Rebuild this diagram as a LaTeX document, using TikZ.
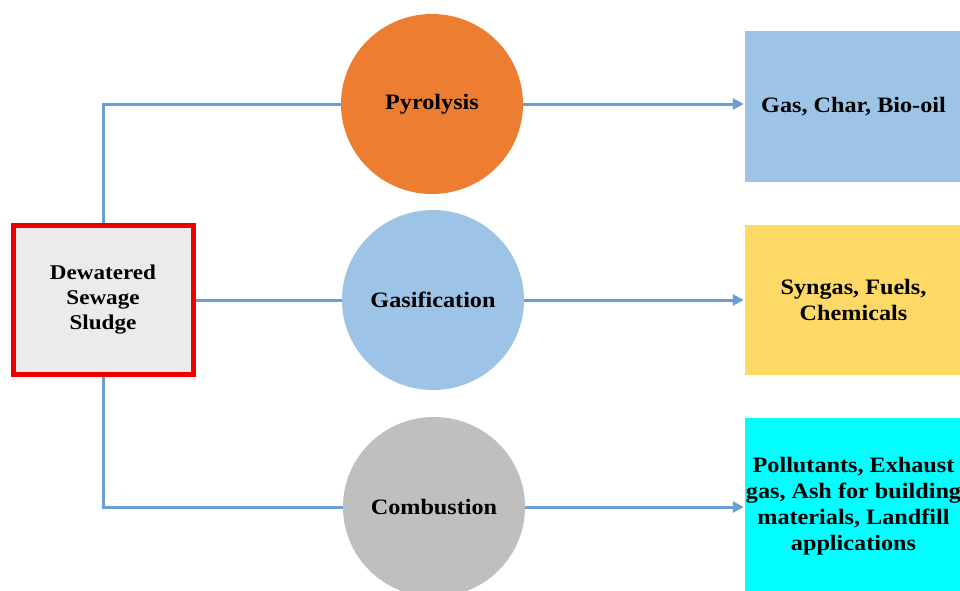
\documentclass[tikz,border=0pt]{standalone}
\usepackage{fontspec}
\setmainfont{Liberation Serif}[FakeStretch=1.1]
\usetikzlibrary{arrows.meta,shapes.geometric}

\definecolor{linkblue}{HTML}{6A9FD4}
\definecolor{procorange}{HTML}{ED7D31}
\definecolor{procblue}{HTML}{9DC3E6}
\definecolor{procgray}{HTML}{BFBFBF}
\definecolor{outblue}{HTML}{9DC3E6}
\definecolor{outyellow}{HTML}{FFD966}
\definecolor{outcyan}{HTML}{00FFFF}
\definecolor{srcfill}{HTML}{EBEBEB}
\definecolor{srcred}{HTML}{EE0000}

\tikzset{
  txt/.style={font=\bfseries\fontsize{22}{26}\selectfont, text=black, align=center},
  source/.style={txt, font=\bfseries\fontsize{21}{25}\selectfont, draw=srcred, line width=5pt,
    fill=srcfill, minimum width=180pt, minimum height=149pt, inner sep=0pt},
  process/.style={txt, ellipse, minimum width=182pt, minimum height=180pt, inner sep=0pt},
  product/.style={txt, rectangle, minimum width=217pt, inner sep=0pt},
  link/.style={draw=linkblue, line width=3pt},
  arrowlink/.style={link, -{Triangle[length=11pt,width=11pt]}, shorten >=1pt},
}

\begin{document}
\begin{tikzpicture}[x=1pt, y=-1pt]
  \clip (0,0) rectangle (960,590);
  \fill[white] (0,0) rectangle (960,590);

  % input material
  \node[source] (src) at (103,300) {Dewatered\\Sewage\\Sludge};

  % conversion routes
  \node[process, fill=procorange] (pyro) at (432,104) {Pyrolysis};
  \node[process, fill=procblue]   (gasi) at (433,300) {Gasification};
  \node[process, fill=procgray]   (comb) at (434,507) {Combustion};

  % products
  \node[product, fill=outblue,   minimum height=151pt] (out1) at (853.5,106.5) {Gas, Char, Bio-oil};
  \node[product, fill=outyellow, minimum height=150pt] (out2) at (853.5,300) {Syngas, Fuels,\\Chemicals};
  \node[product, fill=outcyan,   minimum height=176pt] (out3) at (853.5,506)
    {Pollutants, Exhaust\\gas, Ash for building\\materials, Landfill\\applications};

  % connectors from the sludge to each route
  \draw[link] (src.north) |- (pyro.west);
  \draw[link] (src.east) -- (gasi.west);
  \draw[link] (src.south) |- (comb.west);

  % connectors from each route to its products
  \draw[arrowlink] (pyro.east) -- (out1.west |- pyro.east);
  \draw[arrowlink] (gasi.east) -- (out2.west |- gasi.east);
  \draw[arrowlink] (comb.east) -- (out3.west |- comb.east);
\end{tikzpicture}
\end{document}
